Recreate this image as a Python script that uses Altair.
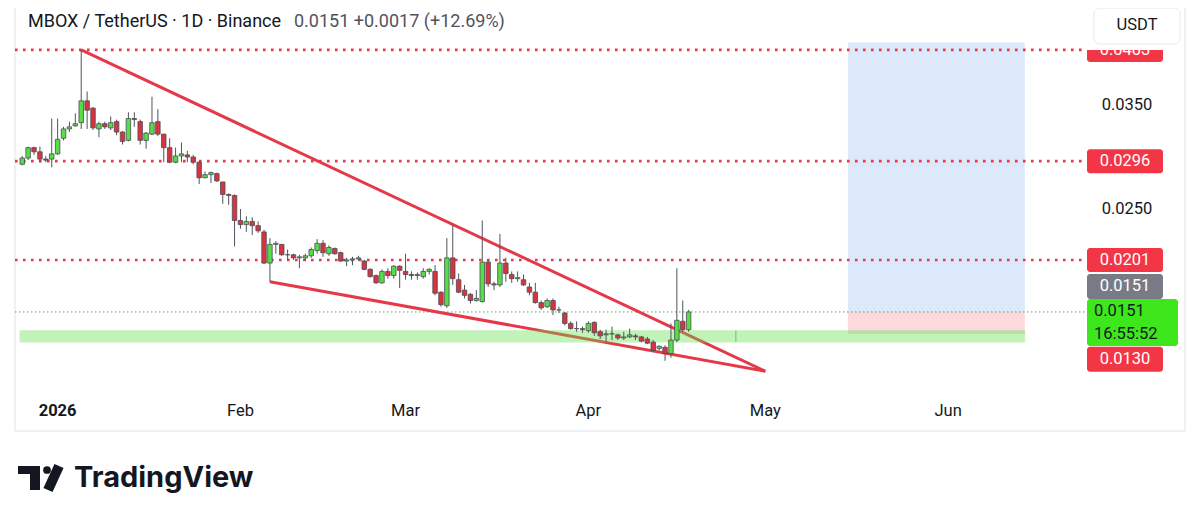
import altair as alt
import pandas as pd
import numpy as np

# ---------------- data ----------------
first_day = "2025-12-26"
opens = [0.0293,0.0299,0.0309,0.0305,0.0298,0.0298,0.0303,0.0318,0.0327,0.0330,
         0.0333,0.0354,0.0347,0.0327,0.0332,0.0328,0.0334,0.0324,0.0316,0.0337,
         0.0334,0.0316,0.0322,0.0334,0.0322,0.0309,0.0295,0.0301,0.0302,0.0300,
         0.0295,0.0280,0.0283,0.0284,0.0276,0.0264,0.0263,0.0239,0.0235,0.0238,
         0.0234,0.0228,0.0198,0.0216,0.0216,0.0206,0.0206,0.0203,0.0203,0.0205,
         0.0210,0.0217,0.0207,0.0212,0.0208,0.0200,0.0201,0.0202,0.0200,0.0192,
         0.0186,0.0179,0.0190,0.0186,0.0195,0.0190,0.0187,0.0186,0.0185,0.0190,
         0.0190,0.0170,0.0157,0.0203,0.0182,0.0172,0.0168,0.0162,0.0161,0.0199,
         0.0178,0.0177,0.0198,0.0187,0.0183,0.0182,0.0175,0.0170,0.0160,0.0156,
         0.0162,0.0153,0.0150,0.0140,0.0135,0.0135,0.0133,0.0141,0.0132,0.0129,
         0.0130,0.0129,0.0126,0.0127,0.0128,0.0127,0.0125,0.0122,0.0116,0.0117,
         0.0111,0.0124,0.0142,0.0134]
highs = [0.0301,0.0310,0.0310,0.0310,0.0301,0.0337,0.0337,0.0329,0.0334,0.0342,
         0.0403,0.0363,0.0348,0.0334,0.0334,0.0339,0.0336,0.0325,0.0343,0.0343,
         0.0336,0.0324,0.0358,0.0346,0.0322,0.0318,0.0309,0.0314,0.0306,0.0302,
         0.0296,0.0286,0.0286,0.0285,0.0276,0.0265,0.0264,0.0250,0.0243,0.0242,
         0.0238,0.0230,0.0222,0.0219,0.0216,0.0211,0.0207,0.0206,0.0207,0.0213,
         0.0221,0.0220,0.0215,0.0213,0.0209,0.0203,0.0204,0.0205,0.0201,0.0193,
         0.0187,0.0192,0.0193,0.0196,0.0196,0.0207,0.0190,0.0189,0.0193,0.0193,
         0.0196,0.0171,0.0222,0.0235,0.0188,0.0177,0.0169,0.0172,0.0239,0.0201,
         0.0180,0.0226,0.0203,0.0190,0.0190,0.0187,0.0179,0.0179,0.0162,0.0164,
         0.0164,0.0156,0.0151,0.0142,0.0142,0.0137,0.0142,0.0142,0.0134,0.0134,
         0.0137,0.0130,0.0132,0.0135,0.0130,0.0128,0.0127,0.0124,0.0119,0.0119,
         0.0140,0.0193,0.0162,0.0153]
lows = [0.0292,0.0297,0.0302,0.0295,0.0295,0.0290,0.0302,0.0316,0.0324,0.0329,
        0.0327,0.0327,0.0326,0.0319,0.0327,0.0326,0.0321,0.0312,0.0315,0.0329,
        0.0312,0.0308,0.0321,0.0320,0.0295,0.0294,0.0294,0.0295,0.0295,0.0293,
        0.0274,0.0280,0.0275,0.0276,0.0255,0.0254,0.0214,0.0231,0.0228,0.0225,
        0.0227,0.0197,0.0180,0.0207,0.0205,0.0201,0.0201,0.0193,0.0200,0.0203,
        0.0207,0.0204,0.0205,0.0206,0.0199,0.0195,0.0196,0.0200,0.0191,0.0184,
        0.0178,0.0178,0.0183,0.0183,0.0174,0.0182,0.0182,0.0182,0.0183,0.0187,
        0.0167,0.0156,0.0155,0.0177,0.0169,0.0164,0.0159,0.0161,0.0160,0.0175,
        0.0172,0.0175,0.0180,0.0179,0.0180,0.0176,0.0167,0.0159,0.0153,0.0155,
        0.0148,0.0150,0.0138,0.0134,0.0132,0.0131,0.0131,0.0128,0.0125,0.0122,
        0.0124,0.0124,0.0124,0.0126,0.0124,0.0122,0.0120,0.0113,0.0114,0.0104,
        0.0107,0.0122,0.0132,0.0132]
closes = [0.0299,0.0309,0.0305,0.0298,0.0297,0.0303,0.0317,0.0327,0.0329,0.0332,
          0.0354,0.0345,0.0328,0.0332,0.0329,0.0333,0.0324,0.0315,0.0337,0.0336,
          0.0316,0.0323,0.0333,0.0322,0.0309,0.0295,0.0301,0.0303,0.0300,0.0295,
          0.0280,0.0283,0.0285,0.0277,0.0264,0.0263,0.0239,0.0235,0.0238,0.0234,
          0.0229,0.0198,0.0216,0.0217,0.0206,0.0206,0.0203,0.0204,0.0205,0.0211,
          0.0217,0.0208,0.0213,0.0207,0.0200,0.0201,0.0202,0.0203,0.0192,0.0185,
          0.0179,0.0190,0.0186,0.0195,0.0191,0.0187,0.0186,0.0187,0.0190,0.0192,
          0.0169,0.0158,0.0203,0.0183,0.0170,0.0167,0.0162,0.0164,0.0199,0.0178,
          0.0177,0.0198,0.0188,0.0183,0.0184,0.0177,0.0170,0.0160,0.0155,0.0162,
          0.0153,0.0153,0.0140,0.0135,0.0135,0.0134,0.0140,0.0131,0.0128,0.0130,
          0.0130,0.0126,0.0127,0.0129,0.0127,0.0123,0.0121,0.0114,0.0118,0.0111,
          0.0124,0.0143,0.0134,0.0151]

level_prices = [0.0403, 0.0296, 0.0201]
level_labels = ["0.0403", "0.0296", "0.0201"]
last_price = 0.0151
stop_price = 0.0130
target_price = 0.0410
wedge_upper_dates = ["2026-01-05", "2026-05-01"]
wedge_upper_prices = [0.0403, 0.0094]
wedge_lower_dates = ["2026-02-06", "2026-05-01"]
wedge_lower_prices = [0.0180, 0.0094]
zone_low, zone_high = 0.0122, 0.0133
zone_end_date = "2026-06-14"
zone_mark_date = "2026-04-26"
position_dates = ["2026-05-15", "2026-06-14"]
axis_tick_prices = [0.0350, 0.0250]
axis_tick_labels = ["0.0350", "0.0250"]
month_dates = ["2026-01-01", "2026-02-01", "2026-03-01", "2026-04-01", "2026-05-01", "2026-06-01"]
month_labels = ["2026", "Feb", "Mar", "Apr", "May", "Jun"]
title_text = "MBOX / TetherUS · 1D · Binance"
quote_text = "0.0151  +0.0017 (+12.69%)"

# ---------------- helpers ----------------
BASE = pd.Timestamp("2026-01-01")
def dd(s):
    return (pd.Timestamp(s) - BASE).days

dates = pd.date_range(first_day, periods=len(opens), freq="D")
df = pd.DataFrame({"d": [(t - BASE).days for t in dates],
                   "open": opens, "high": highs, "low": lows, "close": closes})
df["dir"] = np.where(df["close"] >= df["open"], "up", "down")

XS = alt.Scale(domain=[-6.38, 173.36], range=[7, 1077], zero=False, nice=False)
YS = alt.Scale(domain=[0.0071154, 0.0443269], range=[387, 0], zero=False, nice=False)
X_LEFT = -6.38
FONT = "Roboto"
RED = "#e5394a"

def xq(f):
    return alt.X(f, type="quantitative", scale=XS, axis=None)
def yq(f):
    return alt.Y(f, type="quantitative", scale=YS, axis=None)

layers = []

# frame
frame = pd.DataFrame({"k": [0]})
layers.append(alt.Chart(frame).mark_rule(color="#e0e3eb", strokeWidth=1).encode(
    x=alt.value(7), x2=alt.value(7), y=alt.value(0), y2=alt.value(423)))
layers.append(alt.Chart(frame).mark_rule(color="#e0e3eb", strokeWidth=1).encode(
    x=alt.value(1177), x2=alt.value(1177), y=alt.value(0), y2=alt.value(423)))
layers.append(alt.Chart(frame).mark_rule(color="#e0e3eb", strokeWidth=1).encode(
    x=alt.value(7), x2=alt.value(1177), y=alt.value(423)))

# long position tool
pos = pd.DataFrame({"d0": [dd(position_dates[0])], "d1": [dd(position_dates[1])],
                    "top": [target_price], "entry": [last_price], "stop": [stop_price]})
layers.append(alt.Chart(pos).mark_rect(fill="#dce9fb").encode(
    x=xq("d0"), x2="d1", y=yq("top"), y2="entry"))
layers.append(alt.Chart(pos).mark_rect(fill="#fbd9dd").encode(
    x=xq("d0"), x2="d1", y=yq("entry"), y2="stop"))

# horizontal dotted levels
lv = pd.DataFrame({"p": level_prices, "t": level_labels})
layers.append(alt.Chart(lv).mark_rule(color=RED, strokeWidth=2.6, strokeDash=[2.6, 5.4]).encode(
    y=yq("p"), x=alt.value(7), x2=alt.value(1079)))

# current price line
cp = pd.DataFrame({"p": [last_price]})
layers.append(alt.Chart(cp).mark_rule(color="#4caf50", strokeWidth=1, strokeDash=[1.5, 2.5]).encode(
    y=yq("p"), x=alt.value(7), x2=alt.value(1079)))

# wedge lines
wu = pd.DataFrame({"d": [dd(s) for s in wedge_upper_dates], "p": wedge_upper_prices})
wl = pd.DataFrame({"d": [dd(s) for s in wedge_lower_dates], "p": wedge_lower_prices})
for w in (wu, wl):
    layers.append(alt.Chart(w).mark_line(color=RED, strokeWidth=3).encode(x=xq("d"), y=yq("p")))

# support zone
zn = pd.DataFrame({"d0": [X_LEFT], "d1": [dd(zone_end_date)], "lo": [zone_low], "hi": [zone_high],
                   "dm": [dd(zone_mark_date)]})
layers.append(alt.Chart(zn).mark_rect(fill="#5fe04a", opacity=0.38, stroke="#7fdc6c", strokeWidth=1).encode(
    x=xq("d0"), x2="d1", y=yq("lo"), y2="hi"))
layers.append(alt.Chart(zn).mark_rule(color="#7fdc6c", strokeWidth=1.5).encode(
    x=xq("dm"), y=yq("lo"), y2="hi"))

# candles
layers.append(alt.Chart(df).mark_rule(color="#50535e", strokeWidth=1).encode(
    x=xq("d"), y=yq("low"), y2="high"))
layers.append(alt.Chart(df).mark_bar(size=4.5, stroke="#4a4d57", strokeWidth=0.8).encode(
    x=xq("d"), y=yq("open"), y2="close",
    color=alt.Color("dir:N", scale=alt.Scale(domain=["up", "down"], range=["#57dd45", "#d8343e"]), legend=None)))

# right axis tick labels
at = pd.DataFrame({"p": axis_tick_prices, "t": axis_tick_labels})
layers.append(alt.Chart(at).mark_text(font=FONT, fontSize=16.5, color="#131722", align="center", baseline="middle").encode(
    y=yq("p"), x=alt.value(1119), text="t:N"))

def tag(data, fill, tcolor, off_top, off_bot, x0=1079, x1=1155, fs=16.5):
    dy = (off_top + off_bot) / 2
    r = alt.Chart(data).mark_rect(fill=fill, cornerRadius=3, yOffset=off_top, y2Offset=off_bot).encode(
        x=alt.value(x0), x2=alt.value(x1), y=yq("p"), y2="p:Q")
    t = alt.Chart(data).mark_text(font=FONT, fontSize=fs, color=tcolor, align="center", baseline="middle", dy=dy).encode(
        x=alt.value((x0 + x1) / 2), y=yq("p"), text="t:N")
    return [r, t]

layers += tag(lv, "#f23645", "white", -12, 12)
layers += tag(pd.DataFrame({"p": [last_price], "t": ["0.0151"]}), "#787b86", "white", -38, -13)
gr = pd.DataFrame({"p": [last_price], "t": ["0.0151"], "t2": ["16:55:52"]})
layers.append(alt.Chart(gr).mark_rect(fill="#3ee61c", cornerRadius=3, yOffset=-13, y2Offset=34).encode(
    x=alt.value(1079), x2=alt.value(1170), y=yq("p"), y2="p:Q"))
layers.append(alt.Chart(gr).mark_text(font=FONT, fontSize=16.5, color="#131722", align="left", baseline="middle", dy=-1).encode(
    x=alt.value(1086), y=yq("p"), text="t:N"))
layers.append(alt.Chart(gr).mark_text(font=FONT, fontSize=16.5, color="#131722", align="left", baseline="middle", dy=22).encode(
    x=alt.value(1086), y=yq("p"), text="t2:N"))
layers += tag(pd.DataFrame({"p": [stop_price], "t": ["0.0130"]}), "#f23645", "white", 13, 38)

# cover + USDT button
layers.append(alt.Chart(frame).mark_rect(fill="white").encode(
    x=alt.value(1078), x2=alt.value(1176), y=alt.value(0), y2=alt.value(42)))
layers.append(alt.Chart(frame).mark_rect(fill="white", stroke="#e6e8ee", strokeWidth=1, cornerRadius=6).encode(
    x=alt.value(1086), x2=alt.value(1172), y=alt.value(0), y2=alt.value(36)))
layers.append(alt.Chart(pd.DataFrame({"t": ["USDT"]})).mark_text(font=FONT, fontSize=16.5, color="#131722", align="center", baseline="middle").encode(
    x=alt.value(1129), y=alt.value(17), text="t:N"))

# time axis labels
mo = pd.DataFrame({"d": [dd(s) for s in month_dates], "t": month_labels})
layers.append(alt.Chart(mo.iloc[:1]).mark_text(font=FONT, fontSize=16.5, fontWeight="bold", color="#131722", align="center", baseline="middle").encode(
    x=xq("d"), y=alt.value(403), text="t:N"))
layers.append(alt.Chart(mo.iloc[1:]).mark_text(font=FONT, fontSize=16.5, color="#131722", align="center", baseline="middle").encode(
    x=xq("d"), y=alt.value(403), text="t:N"))

# header
layers.append(alt.Chart(pd.DataFrame({"t": [title_text]})).mark_text(
    font=FONT, fontSize=18, color="#131722", align="left", baseline="middle").encode(
    x=alt.value(20), y=alt.value(14), text="t:N"))
layers.append(alt.Chart(pd.DataFrame({"t": [quote_text]})).mark_text(
    font=FONT, fontSize=18, color="#50535e", align="left", baseline="middle").encode(
    x=alt.value(286), y=alt.value(14), text="t:N"))

# TradingView logo
layers.append(alt.Chart(frame).mark_rect(fill="#131722").encode(
    x=alt.value(10), x2=alt.value(32), y=alt.value(458), y2=alt.value(466)))
layers.append(alt.Chart(frame).mark_rect(fill="#131722").encode(
    x=alt.value(22), x2=alt.value(32), y=alt.value(458), y2=alt.value(482)))
layers.append(alt.Chart(frame).mark_circle(color="#131722", opacity=1, size=60).encode(
    x=alt.value(39), y=alt.value(462)))
layers.append(alt.Chart(frame).mark_rule(color="#131722", strokeWidth=10, strokeCap="butt").encode(
    x=alt.value(51), x2=alt.value(40), y=alt.value(458), y2=alt.value(482)))
layers.append(alt.Chart(pd.DataFrame({"t": ["TradingView"]})).mark_text(
    font="Inter", fontSize=29, fontWeight="bold", color="#131722", align="left", baseline="middle").encode(
    x=alt.value(66), y=alt.value(470), text="t:N"))

chart = alt.layer(*layers).properties(
    width=1184, height=507, autosize=alt.AutoSizeParams(type="none"), padding=0,
    background="white"
).configure_view(stroke=None)

chart.save("out.html", embed_options={"renderer": "svg", "actions": False})
